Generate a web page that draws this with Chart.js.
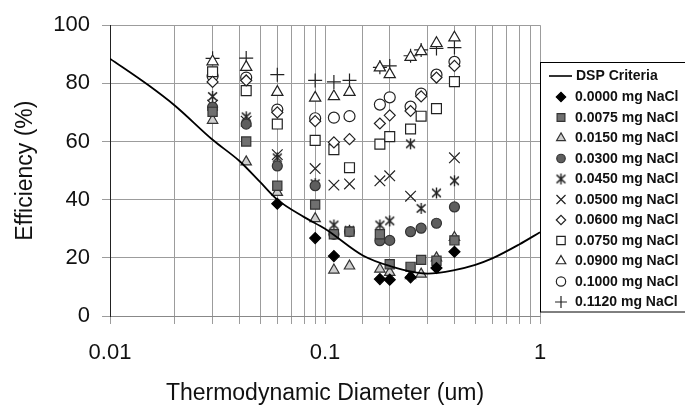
<!DOCTYPE html>
<html>
<head>
<meta charset="utf-8">
<script src="https://cdn.jsdelivr.net/npm/chart.js@4.4.1/dist/chart.umd.min.js"></script>
<style>
  body { margin: 0; background: #fff; }
  #wrap { width: 685px; height: 408px; }
</style>
</head>
<body>
<div id="wrap"><canvas id="myCanvas" width="685" height="408"></canvas></div>
<script>
// particle sizes (um) where the measurements were taken
const sizes = [0.03, 0.043, 0.06, 0.09, 0.11, 0.13, 0.18, 0.2, 0.25, 0.28, 0.33, 0.4];

// efficiency (%) per NaCl loading, null = no point
const nacl0000 = [null, null, 38.6, 26.8, 20.6, null, 12.7, 12.5, 13.3, null, 16.5, 22.1];
const nacl0075 = [70.2, 60, 44.8, 38.3, 28.1, 29, 28.1, 17.8, 16.9, 19.3, 19, 26];
const nacl0150 = [67.3, 53, 42.5, 33.5, 15.8, 17.2, 16.1, 15, 13.9, 14.4, 20, 27];
const nacl0300 = [71.8, 66, 51.6, 44.8, 28.1, 29, 25.9, 26, 29, 30.2, 31.9, 37.5];
const nacl0450 = [75.5, 68.5, 54.4, 45.5, 31.3, 29.5, 31.3, 32.7, 59.2, 37, 42.3, 46.5];
const nacl0500 = [72.5, 67, 55.5, 50.7, 45, 45.4, 46.5, 48.2, 41.2, null, null, 54.4];
const nacl0600 = [80.5, 81, 70, 67, 59.7, 60.8, 66.2, 69, 70.5, 75.5, 82, 86];
const nacl0750 = [84, 77.5, 66, 60.4, 57.2, 51, 59.1, 61.7, 64.3, 68.7, 71.3, 80.6];
const nacl0900 = [87.5, 85.6, 77, 75, 75.5, 77, 85.4, 83.1, 89, 91, 93.8, 95.7];
const nacl1000 = [82.5, 82, 71, 68, 68.2, 68.7, 72.7, 75.2, 72, 76.5, 83, 87.4];
const nacl1120 = [88.6, 88.7, 83, 81, 80.5, 81, 85.5, 86, 89.5, 91.5, 92, 92.3];

// DSP criteria curve
const dspSize = [0.01, 0.015, 0.02, 0.03, 0.04, 0.05, 0.06, 0.08, 0.1, 0.15, 0.2, 0.3, 0.4, 0.5, 0.6, 0.8, 1.0];
const dspEff = [88.5, 79.5, 72.4, 60.6, 53.3, 46, 40, 34, 30, 20.8, 17.2, 14.6, 15.8, 17.6, 19.8, 24.6, 28.8];

const seriesLabels = ['0.0000 mg NaCl', '0.0075 mg NaCl', '0.0150 mg NaCl', '0.0300 mg NaCl',
    '0.0450 mg NaCl', '0.0500 mg NaCl', '0.0600 mg NaCl', '0.0750 mg NaCl',
    '0.0900 mg NaCl', '0.1000 mg NaCl', '0.1120 mg NaCl'];
const seriesValues = [nacl0000, nacl0075, nacl0150, nacl0300, nacl0450, nacl0500,
    nacl0600, nacl0750, nacl0900, nacl1000, nacl1120];

// six-armed asterisk (X with a vertical bar), Chart.js has only the 8-armed star
function makeAsterisk(size) {
    const c = document.createElement('canvas');
    c.width = size;
    c.height = size;
    const g = c.getContext('2d');
    const m = size / 2, r = size / 2 - 1;
    g.strokeStyle = '#222';
    g.lineWidth = 1.4;
    g.beginPath();
    g.moveTo(m, m - r); g.lineTo(m, m + r);
    g.moveTo(m - r * 0.8, m - r * 0.75); g.lineTo(m + r * 0.8, m + r * 0.75);
    g.moveTo(m + r * 0.8, m - r * 0.75); g.lineTo(m - r * 0.8, m + r * 0.75);
    g.stroke();
    return c;
}

// marker looks, same order as the labels
const markerStyles = [
    { pointStyle: 'rectRot', radius: 5.5, backgroundColor: '#000', borderColor: '#000' },
    { pointStyle: 'rect', radius: 6.5, backgroundColor: '#6f6f6f', borderColor: '#333' },
    { pointStyle: 'triangle', radius: 6, backgroundColor: '#cfcfcf', borderColor: '#333' },
    { pointStyle: 'circle', radius: 5, backgroundColor: '#5e5e5e', borderColor: '#333' },
    { pointStyle: makeAsterisk(13), radius: 6, backgroundColor: '#000', borderColor: '#222' },
    { pointStyle: 'crossRot', radius: 7.5, backgroundColor: '#000', borderColor: '#222' },
    { pointStyle: 'rectRot', radius: 5.5, backgroundColor: '#fff', borderColor: '#222' },
    { pointStyle: 'rect', radius: 7, backgroundColor: '#fff', borderColor: '#222' },
    { pointStyle: 'triangle', radius: 6.5, backgroundColor: '#fff', borderColor: '#222' },
    { pointStyle: 'circle', radius: 5.5, backgroundColor: '#fff', borderColor: '#222' },
    { pointStyle: 'cross', radius: 7, backgroundColor: '#000', borderColor: '#222' }
];

const fontFamily = "'Liberation Sans', Arial, sans-serif";

function toPoints(xs, ys) {
    const pts = [];
    for (let i = 0; i < xs.length; i++) {
        if (ys[i] !== null) pts.push({ x: xs[i], y: ys[i] });
    }
    return pts;
}

const datasets = [{
    label: 'DSP Criteria',
    data: toPoints(dspSize, dspEff),
    showLine: true,
    borderColor: '#000',
    borderWidth: 1.8,
    pointRadius: 0,
    cubicInterpolationMode: 'monotone',
    order: 0
}];

for (let i = 0; i < seriesLabels.length; i++) {
    const st = markerStyles[i];
    datasets.push({
        label: seriesLabels[i],
        data: toPoints(sizes, seriesValues[i]),
        showLine: false,
        pointStyle: st.pointStyle,
        pointRadius: st.radius,
        pointHoverRadius: st.radius,
        backgroundColor: st.backgroundColor,
        borderColor: st.borderColor,
        pointBorderWidth: 1.2,
        order: 1
    });
}

// legend box on the right, drawn by hand so it sits like the original
const boxLegend = {
    id: 'boxLegend',
    afterDraw(chart) {
        const ctx = chart.ctx;
        const left = 540.5, top = 62.5, bottom = 312;
        ctx.save();
        ctx.fillStyle = '#fff';
        ctx.fillRect(left, top, 200, bottom - top);
        ctx.strokeStyle = '#000';
        ctx.lineWidth = 1;
        ctx.strokeRect(left, top, 200, bottom - top);

        ctx.font = 'bold 14px ' + fontFamily;
        ctx.fillStyle = '#111';
        ctx.textBaseline = 'middle';
        ctx.textAlign = 'left';

        ctx.beginPath();
        ctx.moveTo(549, 76);
        ctx.lineTo(572, 76);
        ctx.lineWidth = 1.6;
        ctx.stroke();
        ctx.fillText('DSP Criteria', 576, 76.5);

        for (let i = 0; i < seriesLabels.length; i++) {
            const y = 97 + i * 20.5;
            const st = markerStyles[i];
            ctx.fillStyle = st.backgroundColor;
            ctx.strokeStyle = st.borderColor;
            ctx.lineWidth = 1.2;
            Chart.helpers.drawPoint(ctx, {
                pointStyle: st.pointStyle,
                radius: st.radius * 0.85,
                borderWidth: 1.2,
                rotation: 0
            }, 561, y);
            ctx.fillStyle = '#111';
            ctx.fillText(seriesLabels[i], 575, y + 0.5);
        }
        ctx.restore();
    }
};

const myCanvas = document.getElementById('myCanvas').getContext('2d');
window.myChart = new Chart(myCanvas, {
    type: 'scatter',
    data: { datasets: datasets },
    options: {
        responsive: false,
        devicePixelRatio: 1,
        animation: false,
        layout: { padding: { left: 0, right: 145, top: 20, bottom: 0 } },
        plugins: {
            legend: { display: false },
            tooltip: { enabled: false }
        },
        scales: {
            x: {
                type: 'logarithmic',
                min: 0.01,
                max: 1,
                afterFit: s => { s.height = 92; },
                grid: { color: '#9c9c9c', lineWidth: 1, tickLength: 8 },
                border: { color: '#888', width: 1 },
                ticks: {
                    autoSkip: false,
                    maxRotation: 0,
                    padding: 16,
                    color: '#111',
                    font: { family: fontFamily, size: 22 },
                    callback: function (value) {
                        const l = Math.log10(value);
                        if (Math.abs(l - Math.round(l)) < 1e-6) {
                            return String(Math.pow(10, Math.round(l)));
                        }
                        return '';
                    }
                },
                title: {
                    display: true,
                    text: 'Thermodynamic Diameter (um)',
                    color: '#111',
                    font: { family: fontFamily, size: 23 },
                    padding: { top: 0, bottom: 1 }
                }
            },
            y: {
                min: 0,
                max: 100,
                afterFit: s => { s.width = 110; },
                grid: { color: '#9c9c9c', lineWidth: 1, tickLength: 8 },
                border: { color: '#222', width: 1 },
                ticks: {
                    stepSize: 20,
                    padding: 12,
                    color: '#111',
                    font: { family: fontFamily, size: 22 }
                },
                title: {
                    display: true,
                    text: 'Efficiency (%)',
                    color: '#111',
                    font: { family: fontFamily, size: 23 },
                    padding: { top: 12, bottom: 0 }
                }
            }
        }
    },
    plugins: [boxLegend]
});
</script>
</body>
</html>
